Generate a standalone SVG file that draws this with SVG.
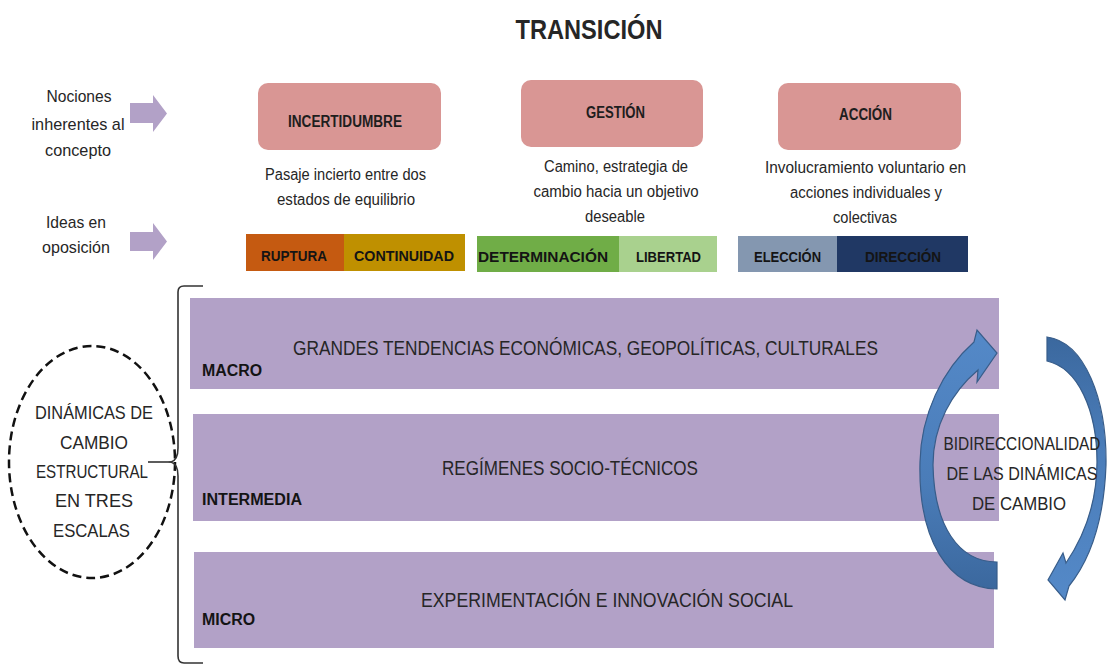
<svg xmlns="http://www.w3.org/2000/svg" width="1108" height="666" viewBox="0 0 1108 666">
<style>
text{font-family:"Liberation Sans",Arial,sans-serif;fill:#262626;text-anchor:middle}
.b{font-weight:bold}
.lbl{font-size:17px}
.ttl{font-size:16px;font-weight:bold;fill:#1e1e1e}
.body{font-size:16px}
.opp{font-size:15px;font-weight:bold;fill:#141414}
.big{font-size:20px}
.scale{font-size:16px;font-weight:bold;text-anchor:start;fill:#141414}
.ell{font-size:18px}
.pink{fill:#d99694}
.bar{fill:#b2a1c7}
.parrow{fill:#b2a1c7}
.curve{stroke:#385d8a;stroke-width:1.2}
</style>
<defs>
<linearGradient id="gl" x1="0" y1="0" x2="0" y2="1">
<stop offset="0" stop-color="#5489c8"/>
<stop offset="0.6" stop-color="#4a7cb8"/>
<stop offset="1" stop-color="#3b689e"/>
</linearGradient>
<linearGradient id="gr" x1="0" y1="0" x2="0" y2="1">
<stop offset="0" stop-color="#3b689e"/>
<stop offset="0.4" stop-color="#4a7cb8"/>
<stop offset="1" stop-color="#5489c8"/>
</linearGradient>
</defs>

<text id="title" class="b" x="589" y="39" font-size="28" textLength="147" lengthAdjust="spacingAndGlyphs" fill="#111">TRANSICIÓN</text>

<g id="row-labels">
<text class="lbl" x="79" y="102" textLength="65" lengthAdjust="spacingAndGlyphs">Nociones</text>
<text class="lbl" x="78" y="130" textLength="93" lengthAdjust="spacingAndGlyphs">inherentes al</text>
<text class="lbl" x="78" y="156" textLength="66" lengthAdjust="spacingAndGlyphs">concepto</text>
<text class="lbl" x="76" y="228" textLength="60" lengthAdjust="spacingAndGlyphs">Ideas en</text>
<text class="lbl" x="76" y="253" textLength="68" lengthAdjust="spacingAndGlyphs">oposición</text>
</g>

<g id="arrow-nociones">
<path class="parrow" d="M130,103 H153 V95 L167,113.5 L153,132 V123 H130 Z"/>
</g>
<g id="arrow-ideas">
<path class="parrow" d="M130,232 H153 V223 L167,241.5 L153,260 V251 H130 Z"/>
</g>

<g id="incertidumbre">
<rect class="pink" x="258" y="83" width="183" height="67" rx="10"/>
<text class="ttl" x="345" y="127" textLength="114" lengthAdjust="spacingAndGlyphs">INCERTIDUMBRE</text>
<text class="body" x="345.5" y="180" textLength="161" lengthAdjust="spacingAndGlyphs">Pasaje incierto entre dos</text>
<text class="body" x="346" y="205" textLength="138" lengthAdjust="spacingAndGlyphs">estados de equilibrio</text>
</g>

<g id="gestion">
<rect class="pink" x="521" y="80" width="182" height="67" rx="10"/>
<text class="ttl" x="615.5" y="118" textLength="59" lengthAdjust="spacingAndGlyphs">GESTIÓN</text>
<text class="body" x="616" y="172" textLength="144" lengthAdjust="spacingAndGlyphs">Camino, estrategia de</text>
<text class="body" x="616" y="197" textLength="165" lengthAdjust="spacingAndGlyphs">cambio hacia un objetivo</text>
<text class="body" x="615" y="222" textLength="60" lengthAdjust="spacingAndGlyphs">deseable</text>
</g>

<g id="accion">
<rect class="pink" x="778" y="83" width="183" height="67" rx="10"/>
<text class="ttl" x="865.5" y="120" textLength="53" lengthAdjust="spacingAndGlyphs">ACCIÓN</text>
<text class="body" x="865.5" y="173" textLength="201" lengthAdjust="spacingAndGlyphs">Involucramiento voluntario en</text>
<text class="body" x="866" y="198" textLength="152" lengthAdjust="spacingAndGlyphs">acciones individuales y</text>
<text class="body" x="865" y="223" textLength="64" lengthAdjust="spacingAndGlyphs">colectivas</text>
</g>

<g id="ruptura">
<rect x="246" y="234" width="98" height="37" fill="#c55a11"/>
<text class="opp" x="294" y="261" textLength="66" lengthAdjust="spacingAndGlyphs">RUPTURA</text>
</g>
<g id="continuidad">
<rect x="344" y="234" width="121" height="37" fill="#bf9000"/>
<text class="opp" x="404" y="261" textLength="100" lengthAdjust="spacingAndGlyphs">CONTINUIDAD</text>
</g>
<g id="determinacion">
<rect x="477" y="236" width="142" height="36" fill="#70ad47"/>
<text class="opp" x="543" y="262" textLength="130" lengthAdjust="spacingAndGlyphs">DETERMINACIÓN</text>
</g>
<g id="libertad">
<rect x="619" y="236" width="98" height="36" fill="#a9d18e"/>
<text class="opp" x="668.5" y="262" textLength="65" lengthAdjust="spacingAndGlyphs">LIBERTAD</text>
</g>
<g id="eleccion">
<rect x="738" y="236" width="99" height="36" fill="#8497b0"/>
<text class="opp" x="787.5" y="262" textLength="67" lengthAdjust="spacingAndGlyphs">ELECCIÓN</text>
</g>
<g id="direccion">
<rect x="837" y="236" width="131" height="36" fill="#203864"/>
<text class="opp" x="903" y="262" textLength="76" lengthAdjust="spacingAndGlyphs">DIRECCIÓN</text>
</g>

<g id="macro">
<rect class="bar" x="190" y="298" width="809" height="91"/>
<text class="big" x="585.5" y="355" textLength="585" lengthAdjust="spacingAndGlyphs">GRANDES TENDENCIAS ECONÓMICAS, GEOPOLÍTICAS, CULTURALES</text>
<text class="scale" x="202" y="376" textLength="60" lengthAdjust="spacingAndGlyphs">MACRO</text>
</g>
<g id="intermedia">
<rect class="bar" x="193" y="414" width="806" height="107"/>
<text class="big" x="570" y="475" textLength="256" lengthAdjust="spacingAndGlyphs">REGÍMENES SOCIO-TÉCNICOS</text>
<text class="scale" x="202" y="505" textLength="100" lengthAdjust="spacingAndGlyphs">INTERMEDIA</text>
</g>
<g id="micro">
<rect class="bar" x="194" y="552" width="800" height="96"/>
<text class="big" x="607" y="607" textLength="372" lengthAdjust="spacingAndGlyphs">EXPERIMENTACIÓN E INNOVACIÓN SOCIAL</text>
<text class="scale" x="202" y="625" textLength="53" lengthAdjust="spacingAndGlyphs">MICRO</text>
</g>

<g id="dinamicas">
<ellipse cx="92" cy="462" rx="83" ry="116" fill="none" stroke="#111" stroke-width="2.5" stroke-dasharray="9 5"/>
<text class="ell" x="94" y="419" textLength="118" lengthAdjust="spacingAndGlyphs">DINÁMICAS DE</text>
<text class="ell" x="94" y="449" textLength="68" lengthAdjust="spacingAndGlyphs">CAMBIO</text>
<text class="ell" x="92" y="478" textLength="112" lengthAdjust="spacingAndGlyphs">ESTRUCTURAL</text>
<text class="ell" x="94" y="507" textLength="78" lengthAdjust="spacingAndGlyphs">EN TRES</text>
<text class="ell" x="91.5" y="537" textLength="77" lengthAdjust="spacingAndGlyphs">ESCALAS</text>
</g>

<g id="bidireccionalidad">
<path class="curve" fill="url(#gl)" d="M997,589 C948,588 918,540 920,462 C921,415 942,370 974,342 L977,330 L997,353 L977,382 L978,370 C952,392 933,425 933,465 C934,525 958,562 997,562 Z"/>
<path class="curve" fill="url(#gr)" d="M1047,337 C1085,342 1107,400 1106,465 C1104,520 1090,560 1069,586 L1065,600 L1048,580 L1063,553 L1066,563 C1085,535 1097,500 1097,462 C1097,410 1078,368 1047,361 Z"/>
<text class="ell" x="1022" y="450" textLength="157" lengthAdjust="spacingAndGlyphs">BIDIRECCIONALIDAD</text>
<text class="ell" x="1022" y="480" textLength="151" lengthAdjust="spacingAndGlyphs">DE LAS DINÁMICAS</text>
<text class="ell" x="1019" y="510" textLength="94" lengthAdjust="spacingAndGlyphs">DE CAMBIO</text>
</g>

<g id="connectors" fill="none" stroke="#333" stroke-width="1.6">
<path d="M203,286 H184 Q178,286 178,292 V448 Q178,460 171,462 Q178,464 178,476 V656 Q178,663 184,663 H203"/>
<path d="M148,462 H171"/>
</g>
</svg>
